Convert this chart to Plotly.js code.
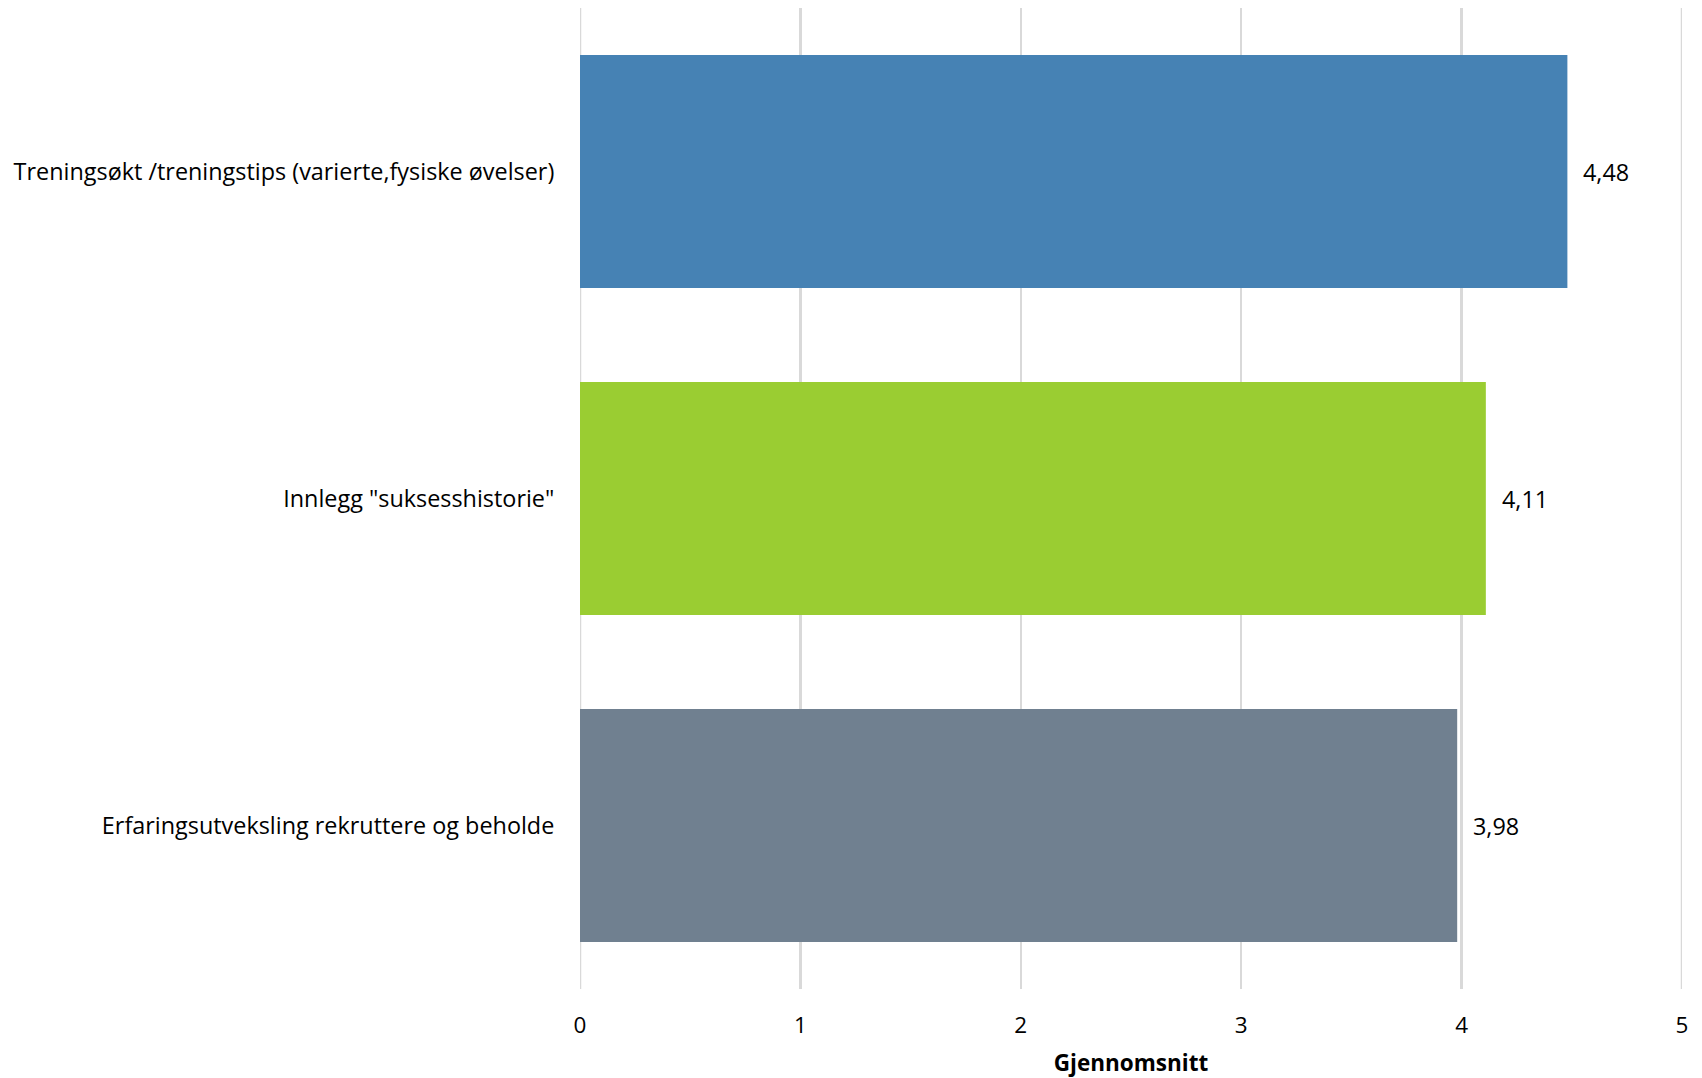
<!DOCTYPE html>
<html>
<head>
<meta charset="utf-8">
<script src="https://cdn.plot.ly/plotly-3.0.1.min.js"></script>
<style>html,body{margin:0;padding:0;background:#fff;}#chart{width:1702px;height:1078px;}</style>
</head>
<body>
<div id="chart"></div>
<script>
const categories = [
  'Treningsøkt /treningstips (varierte,fysiske øvelser)',
  'Innlegg "suksesshistorie"',
  'Erfaringsutveksling rekruttere og beholde'
];
const values = [4.48, 4.11, 3.98];
const labels = ['4,48', '4,11', '3,98'];
const colors = ['#4682B4', '#9ACD32', '#708090'];
const tickVals = [0, 1, 2, 3, 4, 5];
const tickText = ['0', '1', '2', '3', '4', '5'];

const FONT = 'Open Sans, sans-serif';
const FS = 22.5;
const FS_CAT = 23.4;

const trace = {
  type: 'bar',
  orientation: 'h',
  x: values,
  y: categories,
  marker: {color: colors},
  width: 0.713,
  hoverinfo: 'none'
};

const annotations = values.map((v, i) => ({
  x: v, y: categories[i], xref: 'x', yref: 'y',
  text: labels[i], showarrow: false,
  xanchor: 'left', xshift: 14,
  font: {family: FONT, size: FS_CAT, color: '#000'}
}));

const edgeShapes = [tickVals[0], tickVals[tickVals.length - 1]].map(v => ({
  type: 'line', xref: 'x', yref: 'paper', x0: v, x1: v, y0: 0, y1: 1,
  line: {color: '#d9d9d9', width: 2.5}, layer: 'below'
}));

const layout = {
  width: 1702, height: 1078,
  paper_bgcolor: '#fff', plot_bgcolor: '#fff',
  margin: {l: 580, r: 20, t: 8, b: 89},
  showlegend: false,
  font: {family: FONT, size: FS, color: '#000'},
  xaxis: {
    range: [0, 5],
    tickvals: tickVals, ticktext: tickText,
    showgrid: true, gridcolor: '#d9d9d9', gridwidth: 2.5,
    zeroline: false, showline: false,
    ticks: 'outside', ticklen: 16, tickcolor: 'rgba(0,0,0,0)',
    tickfont: {family: FONT, size: FS, color: '#000'},
    title: {text: '<b>Gjennomsnitt</b>', font: {family: FONT, size: FS, color: '#000'}, standoff: 16}
  },
  yaxis: {
    autorange: 'reversed',
    showgrid: false, zeroline: false, showline: false,
    ticks: 'outside', ticklen: 20, tickcolor: 'rgba(0,0,0,0)',
    tickfont: {family: FONT, size: FS_CAT, color: '#000'}
  },
  shapes: edgeShapes,
  annotations: annotations
};

Plotly.newPlot('chart', [trace], layout, {displayModeBar: false, staticPlot: true});
</script>
</body>
</html>
